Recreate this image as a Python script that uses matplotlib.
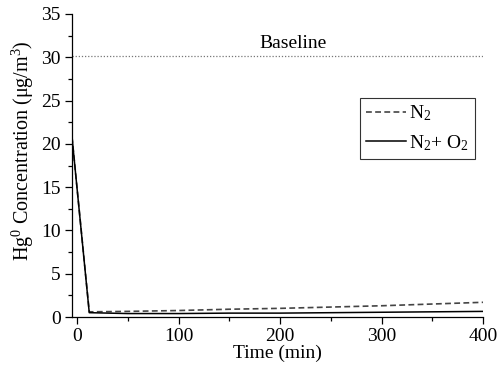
import matplotlib.pyplot as plt
from matplotlib.ticker import MultipleLocator

plt.rcParams['font.family'] = ['Liberation Serif', 'DejaVu Serif']
plt.rcParams['mathtext.fontset'] = 'custom'
plt.rcParams['mathtext.rm'] = 'Liberation Serif'
plt.rcParams['mathtext.it'] = 'Liberation Serif:italic'

# data
time_n2 = [-5, 12, 50, 100, 150, 200, 250, 300, 350, 400]
conc_n2 = [20.8, 0.6, 0.65, 0.75, 0.9, 1.0, 1.15, 1.3, 1.5, 1.7]
time_n2o2 = [-5, 12, 50, 100, 150, 200, 250, 300, 350, 400]
conc_n2o2 = [20.8, 0.5, 0.4, 0.4, 0.45, 0.45, 0.5, 0.55, 0.6, 0.65]
baseline = 30.1

fig = plt.figure(figsize=(4.99, 3.70), dpi=100)
ax = fig.add_axes([0.1443, 0.1432, 0.8236, 0.819])

ax.plot(time_n2, conc_n2, color='#444444', ls=(0, (3.5, 2)), lw=1.2, label='N$_2$')
ax.plot(time_n2o2, conc_n2o2, color='black', lw=1.1, label='N$_2$+ O$_2$')
ax.axhline(baseline, color='#777777', ls=(0, (1, 1.5)), lw=0.9)
ax.text(213, 31.6, 'Baseline', ha='center', va='center', fontsize=14)

ax.set_xlim(-5, 400)
ax.set_ylim(0, 35)
ax.xaxis.set_major_locator(MultipleLocator(100))
ax.xaxis.set_minor_locator(MultipleLocator(50))
ax.yaxis.set_major_locator(MultipleLocator(5))
ax.yaxis.set_minor_locator(MultipleLocator(2.5))
ax.tick_params(which='major', direction='out', length=5, width=0.9, labelsize=14, pad=3)
ax.tick_params(which='minor', direction='out', length=3, width=0.9)
for s in ['top', 'right']:
    ax.spines[s].set_visible(False)
for s in ['left', 'bottom']:
    ax.spines[s].set_linewidth(0.9)

ax.set_xlabel('Time (min)', fontsize=14, labelpad=0)
ax.set_ylabel('Hg$^0$ Concentration (μg/m$^3$)', fontsize=14.5)
ax.yaxis.set_label_coords(-0.088, 0.55)

leg = ax.legend(loc='upper left', bbox_to_anchor=(0.70, 0.723), fontsize=14,
                frameon=True, fancybox=False, edgecolor='black',
                handlelength=2.1, handletextpad=0.15, borderpad=0.3,
                labelspacing=0.5, borderaxespad=0)
leg.get_frame().set_linewidth(0.8)

fig.savefig('out.png', dpi=100)
